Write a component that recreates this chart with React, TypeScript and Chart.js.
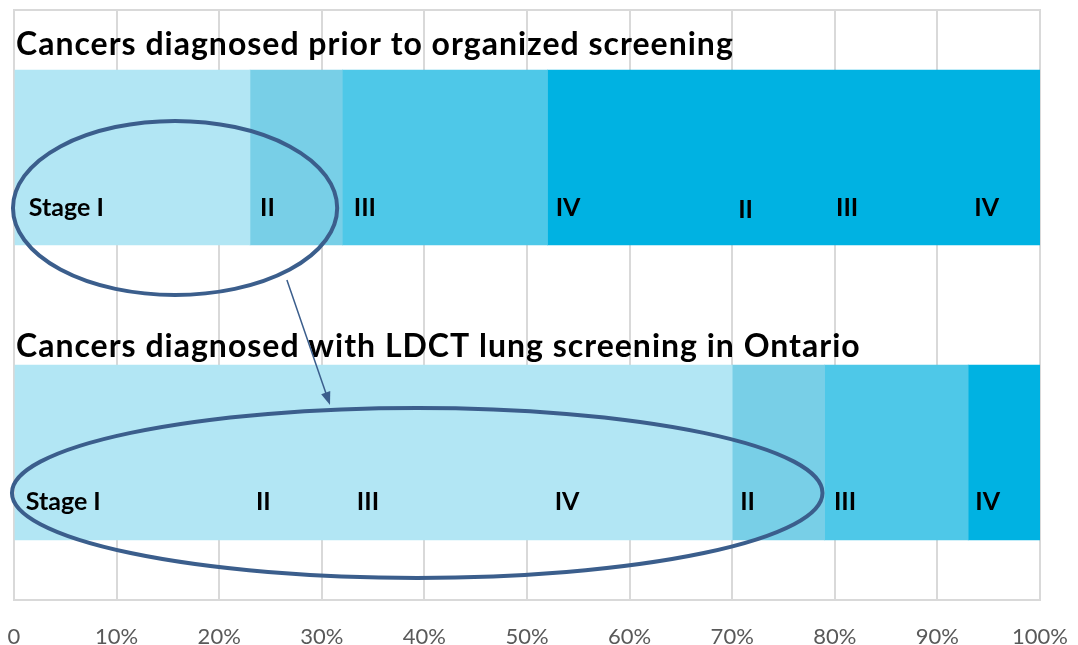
import React, { useEffect, useRef } from "react";
import { Chart, registerables } from "chart.js";

Chart.register(...registerables);

// ---- data ----
const categories = ["Prior to organized screening", "LDCT lung screening in Ontario"];
const titles = [
  "Cancers diagnosed prior to organized screening",
  "Cancers diagnosed with LDCT lung screening in Ontario",
];
const stageNames = ["Stage I", "Stage II", "Stage III", "Stage IV"];
const stageI = [23, 70];
const stageII = [9, 9];
const stageIII = [20, 14];
const stageIV = [48, 7];
const stageColors = ["#b2e6f4", "#78cfe7", "#4ec8e8", "#00b2e2"];
const xTicks = [0, 10, 20, 30, 40, 50, 60, 70, 80, 90, 100];

// in-bar text labels (text, x in %, row index + offset)
const labelTexts = ["Stage I", "II", "III", "IV", "II", "III", "IV"];
const labelXRow0 = [5.1, 24.7, 34.2, 54.0, 71.3, 81.2, 94.8];
const labelXRow1 = [4.8, 24.3, 34.5, 53.9, 71.5, 81.0, 94.9];
const labelYRow0 = [0.171, 0.171, 0.171, 0.171, 0.178, 0.171, 0.171];
const labelYRow1 = [1.168, 1.168, 1.168, 1.168, 1.168, 1.168, 1.168];

// ellipse annotations: [cx %, cy (category units), rx %, ry (category units)]
const ellipseTop = [15.7, 0.171, 15.8, 0.295];
const ellipseBottom = [39.3, 1.137, 39.5, 0.288];
// arrow: from [x%, y], to [x%, y]
const arrowFrom = [26.6, 0.415];
const arrowTo = [30.8, 0.839];

const annotationPlugin = {
  id: "annotations",
  beforeDatasetsDraw(chart: any) {
    const { ctx, chartArea } = chart;
    ctx.save();
    ctx.strokeStyle = "#d9d9d9";
    ctx.lineWidth = 2;
    ctx.strokeRect(chartArea.left, chartArea.top, chartArea.right - chartArea.left, chartArea.bottom - chartArea.top);
    ctx.restore();
  },
  afterDatasetsDraw(chart: any) {
    const { ctx } = chart;
    const xs = chart.scales.x;
    const ys = chart.scales.y;
    ctx.save();
    // titles
    ctx.fillStyle = "#000";
    ctx.font = "bold 32px Lato";
    (ctx as any).letterSpacing = "1px";
    ctx.textAlign = "left";
    ctx.textBaseline = "alphabetic";
    const barTop0 = chart.getDatasetMeta(0).data[0];
    const barTop1 = chart.getDatasetMeta(0).data[1];
    ctx.fillText(titles[0], xs.getPixelForValue(0) + 2, ys.getPixelForValue(0) - barTop0.height / 2 - 15);
    ctx.fillText(titles[1], xs.getPixelForValue(0) + 2, ys.getPixelForValue(1) - barTop1.height / 2 - 8);
    (ctx as any).letterSpacing = "0px";

    // labels
    ctx.font = "bold 25px Lato";
    ctx.textAlign = "center";
    ctx.textBaseline = "middle";
    labelTexts.forEach((t, i) => {
      ctx.fillText(t, xs.getPixelForValue(labelXRow0[i]), ys.getPixelForValue(labelYRow0[i]));
      ctx.fillText(t, xs.getPixelForValue(labelXRow1[i]), ys.getPixelForValue(labelYRow1[i]));
    });

    // ellipses
    const drawEllipse = (e: number[]) => {
      const cx = xs.getPixelForValue(e[0]);
      const cy = ys.getPixelForValue(e[1]);
      const rx = xs.getPixelForValue(e[0] + e[2]) - cx;
      const ry = ys.getPixelForValue(e[1] + e[3]) - cy;
      ctx.beginPath();
      ctx.ellipse(cx, cy, rx, ry, 0, 0, Math.PI * 2);
      ctx.strokeStyle = "#3b5e8c";
      ctx.lineWidth = 4;
      ctx.stroke();
    };
    drawEllipse(ellipseTop);
    drawEllipse(ellipseBottom);

    // arrow
    const x1 = xs.getPixelForValue(arrowFrom[0]);
    const y1 = ys.getPixelForValue(arrowFrom[1]);
    const x2 = xs.getPixelForValue(arrowTo[0]);
    const y2 = ys.getPixelForValue(arrowTo[1]);
    const ang = Math.atan2(y2 - y1, x2 - x1);
    const hl = 14;
    ctx.strokeStyle = "#3b5e8c";
    ctx.fillStyle = "#3b5e8c";
    ctx.lineWidth = 1.5;
    ctx.beginPath();
    ctx.moveTo(x1, y1);
    ctx.lineTo(x2 - Math.cos(ang) * hl * 0.8, y2 - Math.sin(ang) * hl * 0.8);
    ctx.stroke();
    ctx.beginPath();
    ctx.moveTo(x2, y2);
    ctx.lineTo(x2 - hl * Math.cos(ang - 0.35), y2 - hl * Math.sin(ang - 0.35));
    ctx.lineTo(x2 - hl * Math.cos(ang + 0.35), y2 - hl * Math.sin(ang + 0.35));
    ctx.closePath();
    ctx.fill();
    ctx.restore();
  },
};

export default function App() {
  const ref = useRef<HTMLCanvasElement>(null);
  useEffect(() => {
    const series = [stageI, stageII, stageIII, stageIV];
    const chart = new Chart(ref.current!, {
      type: "bar",
      data: {
        labels: categories,
        datasets: series.map((d, i) => ({
          label: stageNames[i],
          data: d,
          backgroundColor: stageColors[i],
          borderWidth: 0,
          barThickness: 175,
        })),
      },
      options: {
        indexAxis: "y",
        animation: false,
        responsive: false,
        maintainAspectRatio: false,
        layout: { padding: { left: 14, right: 38, top: 10, bottom: 0 } },
        plugins: { legend: { display: false }, tooltip: { enabled: false }, title: { display: false } },
        scales: {
          x: {
            stacked: true,
            min: 0,
            max: 100,
            afterBuildTicks: (s: any) => {
              s.ticks = xTicks.map((v) => ({ value: v }));
            },
            afterFit: (s: any) => {
              s.height = 45;
              s.paddingLeft = 0;
              s.paddingRight = 0;
            },
            ticks: {
              stepSize: 10,
              padding: 24,
              color: "#595959",
              font: { family: "Lato", size: 22 },
              callback: (v: any) => (v === 0 ? "0" : v + "%"),
            },
            grid: { color: "#d9d9d9", lineWidth: 2, drawTicks: false },
            border: { display: false },
          },
          y: {
            stacked: true,
            display: false,
          },
        },
      },
      plugins: [annotationPlugin],
    });
    return () => chart.destroy();
  }, []);
  return (
    <div style={{ position: "fixed", left: 0, top: 0, width: 1078, height: 645, background: "#fff" }}>
      <canvas ref={ref} width={1078} height={645} style={{ display: "block" }} />
    </div>
  );
}
